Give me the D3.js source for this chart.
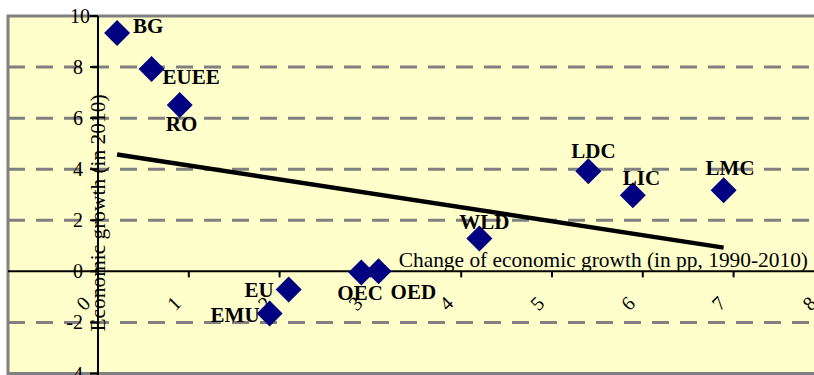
<!DOCTYPE html>
<html><head><meta charset="utf-8">
<script src="https://cdn.jsdelivr.net/npm/d3@7"></script>
<style>
html,body{margin:0;padding:0;background:#fff;}
svg{display:block;}
text{font-family:"Liberation Serif","Times New Roman",serif;}
</style></head>
<body>
<script>
// ---- data ----
const codes = ["BG","EUEE","RO","EU","EMU","OEC","OED","WLD","LDC","LIC","LMC"];
const changeGrowth = [0.21,0.59,0.90,2.10,1.89,2.90,3.09,4.20,5.40,5.89,6.89];
const growth2010 = [9.33,7.92,6.51,-0.71,-1.65,-0.04,0.00,1.29,3.92,2.98,3.18];
const trendX = [0.21,6.89];
const trendY = [4.58,0.93];
const xTicks = [0,1,2,3,4,5,6,7,8];
const yTicks = [-4,-2,0,2,4,6,8,10];
const xTitle = "Change of economic growth (in pp, 1990-2010)";
const yTitle = "Economic growth (in 2010)";
// label placement (pixels, relative to marker) and anchor
const labelOffsets = [[16,0,"start"],[11,15,"start"],[-14,26,"start"],[-15,8,"end"],[-10,9,"end"],
  [-24,28,"start"],[12,28,"start"],[-20,-9,"start"],[-17,-13,"start"],[-10,-10,"start"],[-18,-15,"start"]];

const W=814,H=375;
const svg=d3.select("body").append("svg").attr("width",W).attr("height",H);
const x=d3.scaleLinear().domain([0,8]).range([98,824.4]);
const y=d3.scaleLinear().domain([-4,10]).range([373.5,16]);

// plot area
svg.append("rect").attr("x",8).attr("y",16).attr("width",830).attr("height",357.5)
  .attr("fill","#FFFFCC").attr("stroke","#808080").attr("stroke-width",3);

// gridlines
svg.append("g").selectAll("line").data(yTicks.filter(v=>v!==0&&v!==-4&&v!==10)).join("line")
  .attr("x1",8).attr("x2",W).attr("y1",d=>y(d)).attr("y2",d=>y(d))
  .attr("stroke","#808080").attr("stroke-width",3).attr("stroke-dasharray","17,11");

// trend line
const tl=d3.line().x(d=>x(d[0])).y(d=>y(d[1]));
svg.append("path").attr("d",tl(trendX.map((v,i)=>[v,trendY[i]])))
  .attr("stroke","#000").attr("stroke-width",4.5).attr("fill","none");

// x axis
const xAxis=svg.append("g");
xAxis.append("line").attr("x1",8).attr("x2",W).attr("y1",y(0)).attr("y2",y(0)).attr("stroke","#000").attr("stroke-width",2);
xAxis.selectAll(".xt").data(xTicks.filter(v=>v!==0)).join("line").attr("class","xt")
  .attr("x1",d=>x(d)).attr("x2",d=>x(d)).attr("y1",y(0)).attr("y2",y(0)+6).attr("stroke","#000").attr("stroke-width",2);
xAxis.selectAll(".xl").data(xTicks).join("text").attr("class","xl")
  .attr("transform",d=>`translate(${x(d)-15},${y(0)+32}) rotate(-45)`)
  .attr("text-anchor","middle").attr("dominant-baseline","central")
  .attr("font-size",20).text(d=>d);

// y axis
const yAxis=svg.append("g");
yAxis.append("line").attr("x1",x(0)).attr("x2",x(0)).attr("y1",16).attr("y2",H).attr("stroke","#000").attr("stroke-width",2);
yAxis.selectAll(".yt").data(yTicks).join("line").attr("class","yt")
  .attr("x1",x(0)-8).attr("x2",x(0)).attr("y1",d=>y(d)).attr("y2",d=>y(d)).attr("stroke","#000").attr("stroke-width",2);
yAxis.selectAll(".yl").data(yTicks).join("text").attr("class","yl")
  .attr("x",d=>d===10?90:83).attr("y",d=>y(d)).attr("text-anchor","end").attr("dominant-baseline","central")
  .attr("font-size",20).text(d=>d);

// titles
svg.append("text").attr("x",808).attr("y",267).attr("text-anchor","end").attr("font-size",21.4).text(xTitle);
svg.append("text").attr("transform",`translate(105,213) rotate(-90)`).attr("text-anchor","middle").attr("font-size",21.4).text(yTitle);

// markers
const sym=d3.symbol().type(d3.symbolSquare).size(338);
svg.append("g").selectAll("path").data(codes).join("path")
  .attr("d",sym).attr("transform",(d,i)=>`translate(${x(changeGrowth[i])},${y(growth2010[i])}) rotate(45)`)
  .attr("fill","#000080");

// labels
svg.append("g").selectAll("text").data(codes).join("text")
  .attr("x",(d,i)=>x(changeGrowth[i])+labelOffsets[i][0])
  .attr("y",(d,i)=>y(growth2010[i])+labelOffsets[i][1])
  .attr("text-anchor",(d,i)=>labelOffsets[i][2])
  .attr("font-size",21).attr("font-weight","bold").text(d=>d);
</script>
</body></html>
